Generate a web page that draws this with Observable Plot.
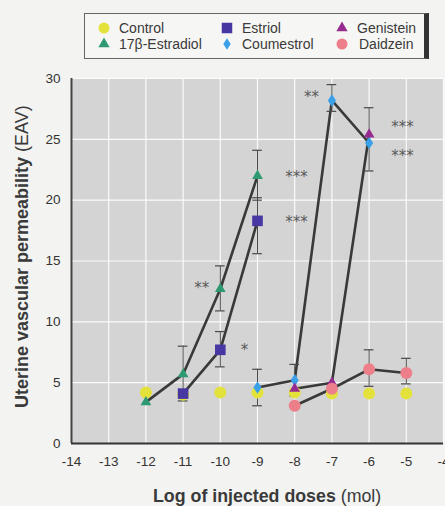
<!DOCTYPE html>
<html><head><meta charset="utf-8">
<script src="https://cdn.jsdelivr.net/npm/d3@7"></script>
<script src="https://cdn.jsdelivr.net/npm/@observablehq/plot@0.6"></script>
<style>
body{margin:0;background:#f3f3f1;}
#wrap{position:relative;width:445px;height:506px;overflow:hidden;font-family:"Liberation Sans",Arial,sans-serif;}
#chart{position:absolute;left:0;top:0;}
#legend{position:absolute;left:84px;top:13px;width:339px;height:44px;border:1px solid #666;border-right:5px solid #333;background:#f6f6f4;}
</style></head><body><div id="wrap"><div id="chart"></div><div id="legend"></div></div>
<script>
// ---- data ----
const seriesNames = ["Control","17β-Estradiol","Estriol","Coumestrol","Genistein","Daidzein"];
const seriesColors = ["#e3e23c","#2f9a72","#4737a2","#3aa0e8","#972c90","#ec7f8a"];
const seriesSymbols = ["circle","triangle","square","diamond","triangle","circle"];

const controlX = [-12,-11,-10,-9,-8,-7,-6,-5];
const controlY = [4.2,4.0,4.2,4.2,4.2,4.1,4.1,4.1];

const estradiolX = [-12,-11,-10,-9];
const estradiolY = [3.4,5.7,12.7,22.0];
const estradiolLo = [null,3.5,10.9,20.0];
const estradiolHi = [null,8.0,14.6,24.1];

const estriolX = [-11,-10,-9];
const estriolY = [4.1,7.7,18.3];
const estriolLo = [null,6.3,15.6];
const estriolHi = [null,9.2,20.2];

const coumestrolX = [-9,-8,-7,-6];
const coumestrolY = [4.6,5.2,28.2,24.7];
const coumestrolLo = [3.1,3.9,27.3,22.4];
const coumestrolHi = [6.1,6.5,29.5,27.6];

const genisteinX = [-8,-7,-6];
const genisteinY = [4.5,5.0,25.4];

const daidzeinX = [-8,-7,-6,-5];
const daidzeinY = [3.1,4.5,6.1,5.8];
const daidzeinLo = [null,null,4.7,4.9];
const daidzeinHi = [null,null,7.7,7.0];

const xTicks = [-14,-13,-12,-11,-10,-9,-8,-7,-6,-5,-4];
const yTicks = [0,5,10,15,20,25,30];

const starText = ["**","*","***","***","**","***","***"];
const starX = [-10.5,-9.35,-7.95,-7.95,-7.55,-5.1,-5.1];
const starY = [12.8,7.7,21.9,18.2,28.5,26.0,23.6];

// ---- build tables ----
const xs = [controlX,estradiolX,estriolX,coumestrolX,genisteinX,daidzeinX];
const ys = [controlY,estradiolY,estriolY,coumestrolY,genisteinY,daidzeinY];
const los = [null,estradiolLo,estriolLo,coumestrolLo,null,daidzeinLo];
const his = [null,estradiolHi,estriolHi,coumestrolHi,null,daidzeinHi];
const series = seriesNames.map((name,i)=>({
  name, color:seriesColors[i], symbol:seriesSymbols[i],
  pts: xs[i].map((x,j)=>({series:name,x,y:ys[i][j],lo:los[i]?los[i][j]:null,hi:his[i]?his[i][j]:null}))
}));
const lined = series.filter(s=>s.name!=="Control").flatMap(s=>s.pts);
const errs = series.flatMap(s=>s.pts).filter(d=>d.lo!=null && d.hi!=null);
const stars = starText.map((t,i)=>({t,x:starX[i],y:starY[i]}));

const diamond = {draw(ctx,size){const r=Math.sqrt(size/Math.PI);ctx.moveTo(0,-r*1.3);ctx.lineTo(r*0.85,0);ctx.lineTo(0,r*1.3);ctx.lineTo(-r*0.85,0);ctx.closePath();}};
const symOf = s => s==="diamond" ? diamond : s;
const rOf = s => s==="square" ? 6.0 : s==="triangle" ? 4.0 : s==="diamond" ? 4.8 : 6.0;
const cap = 0.13;

const font = `"Liberation Sans",Arial,sans-serif`;

const plot = Plot.plot({
  width:445, height:506,
  marginLeft:71, marginRight:2, marginTop:78, marginBottom:63,
  style:{background:"transparent", fontFamily:font, fontSize:"13px", color:"#333"},
  x:{domain:[-14,-4], label:null},
  y:{domain:[0,30], label:null},
  marks:[
    Plot.frame({fill:"#d4d4d4", stroke:null}),
    Plot.gridX(xTicks,{stroke:"#fff", strokeOpacity:0.9, strokeWidth:1.2}),
    Plot.gridY(yTicks,{stroke:"#fff", strokeOpacity:0.9, strokeWidth:1.2}),
    Plot.axisX({ticks:xTicks, tickSize:0, tickPadding:13, fontSize:13.5, tickFormat:d=>String(d), fill:"#333", label:null}),
    Plot.axisY({ticks:yTicks, tickSize:0, tickPadding:11, fontSize:13.5, fill:"#333", label:null}),
    Plot.ruleY([0],{stroke:"#333", strokeWidth:2.2}),
    Plot.ruleX([-14],{stroke:"#444", strokeWidth:2}),
    Plot.line(lined,{x:"x", y:"y", z:"series", stroke:"#373a37", strokeWidth:2.6}),
    Plot.ruleX(errs,{x:"x", y1:"lo", y2:"hi", stroke:"#4a4a4a", strokeWidth:1}),
    Plot.ruleY(errs,{y:"lo", x1:d=>d.x-cap, x2:d=>d.x+cap, stroke:"#4a4a4a", strokeWidth:1.2}),
    Plot.ruleY(errs,{y:"hi", x1:d=>d.x-cap, x2:d=>d.x+cap, stroke:"#4a4a4a", strokeWidth:1.2}),
    ...series.map(s=>Plot.dot(s.pts,{x:"x", y:"y", fill:s.color, symbol:symOf(s.symbol), r:rOf(s.symbol), stroke:null})),
    Plot.text(stars,{x:"x", y:"y", text:"t", fill:"#5a5a5a", fontSize:15, fontFamily:"DejaVu Sans", letterSpacing:-1})
  ]
});
document.getElementById("chart").appendChild(plot);

// axis titles with mixed weights
const svg = d3.select(plot);
const yt = svg.append("text").attr("transform","translate(28,408) rotate(-90)")
  .attr("text-anchor","start").attr("fill","#3a3a3a").style("font-family",font).style("font-size","18px");
yt.append("tspan").attr("font-weight","bold").text("Uterine vascular permeability ");
yt.append("tspan").attr("font-weight","normal").text("(EAV)");
const xt = svg.append("text").attr("x",153).attr("y",502)
  .attr("text-anchor","start").attr("fill","#3a3a3a").style("font-family",font).style("font-size","17.8px");
xt.append("tspan").attr("font-weight","bold").text("Log of injected doses ");
xt.append("tspan").attr("font-weight","normal").text("(mol)");

// legend
const lg = d3.select("#legend").append("svg").attr("width",339).attr("height",44);
const colX = [19,142,257];
const rowY = [14,30];
series.forEach((s,i)=>{
  const c = Math.floor(i/2), r = i%2;
  const g = lg.append("g").attr("transform",`translate(${colX[c]},${rowY[r]})`);
  const typ = s.symbol==="circle"?d3.symbolCircle:s.symbol==="square"?d3.symbolSquare:s.symbol==="triangle"?d3.symbolTriangle:diamond;
  const size = s.symbol==="square"?110:s.symbol==="triangle"?55:s.symbol==="diamond"?60:95;
  g.append("path").attr("d",d3.symbol(typ,size)()).attr("fill",s.color);
  g.append("text").attr("x",s.symbol==="circle"&&c===2?17:15).attr("y",5).attr("fill","#3a3a3a")
    .style("font-family",font).style("font-size","14px").text(s.name);
});
</script></body></html>
